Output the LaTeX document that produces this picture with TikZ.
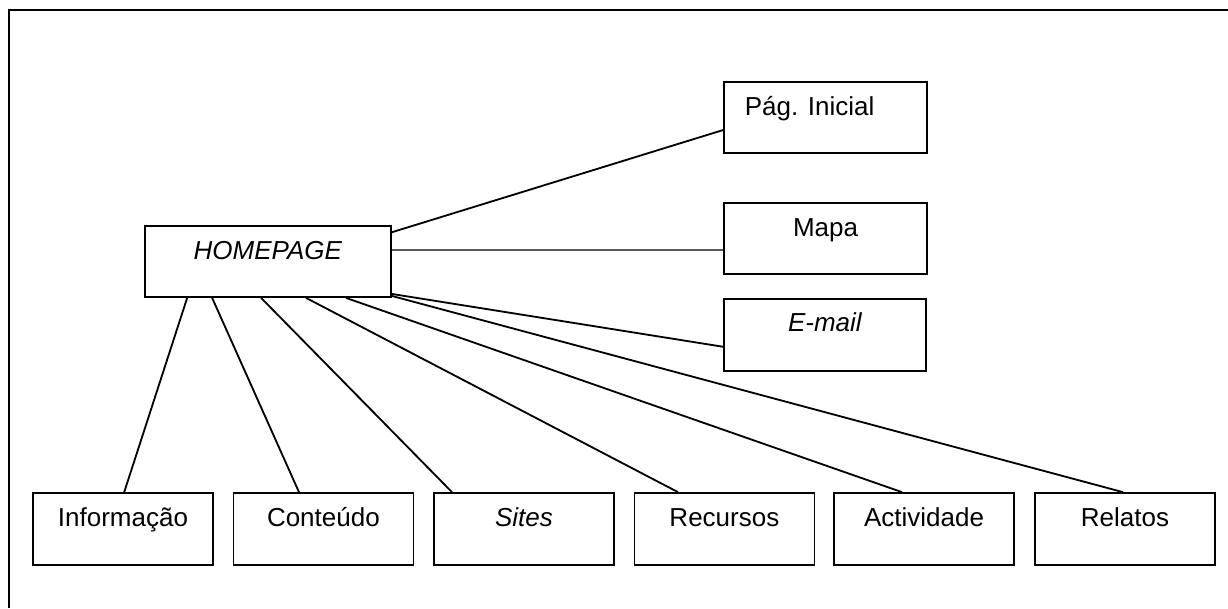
\documentclass[tikz,border=0pt]{standalone}
\usepackage{fontspec}
\setmainfont{Liberation Sans}
\tikzset{
	block/.style={draw, line width=1.2pt, minimum width=4.5cm, minimum height=1.8cm},
	boxtext/.style={anchor=base, font=\fontsize{18.5}{22}\selectfont},
	link/.style={line width=1.3pt}
}

\begin{document}
\begin{tikzpicture}
		\useasboundingbox (0,0) rectangle (30.7,15.2);
		
		% Frame
		\coordinate (frametop) at (30.7,14.95);
		\coordinate (framecorner) at (0.225,14.95);
		\coordinate (framebottom) at (0.225,0);
		\draw[line width=1.2pt] (frametop) -- (framecorner) -- (framebottom);
		
		% Homepage
		\node[block, minimum width=6.15cm, minimum height=1.775cm] (homepage) at (6.7,8.66) {};
		\node[boxtext] (homepage-t) at ([yshift=-0.85cm]homepage.north) {\textit{HOMEPAGE}};
		
		% Right column
		\node[block, minimum width=5.075cm, minimum height=1.775cm] (inicial) at (20.64,12.26) {};
		\node[boxtext] (inicial-t) at ([xshift=-0.4cm, yshift=-0.85cm]inicial.north) {Pág. Inicial};
		
		\node[block, minimum width=5.075cm, minimum height=1.775cm] (mapa) at (20.64,9.24) {};
		\node[boxtext] (mapa-t) at ([yshift=-0.85cm]mapa.north) {Mapa};
		
		\node[block, minimum width=5.05cm] (email) at (20.63,6.83) {};
		\node[boxtext] (email-t) at ([yshift=-0.85cm]email.north) {\textit{E-mail}};
		
		% Bottom row
		\node[block] (info) at (3.075,1.975) {};
		\node[boxtext] (info-t) at ([yshift=-0.85cm]info.north) {Informação};
		
		\node[block] (conteudo) at (8.085,1.975) {};
		\node[boxtext] (conteudo-t) at ([yshift=-0.85cm]conteudo.north) {Conteúdo};
		
		\node[block] (sites) at (13.1,1.975) {};
		\node[boxtext] (sites-t) at ([yshift=-0.85cm]sites.north) {\textit{Sites}};
		
		\node[block] (recursos) at (18.11,1.975) {};
		\node[boxtext] (recursos-t) at ([yshift=-0.85cm]recursos.north) {Recursos};
		
		\node[block] (actividade) at (23.1,1.975) {};
		\node[boxtext] (actividade-t) at ([yshift=-0.85cm]actividade.north) {Actividade};
		
		\node[block] (relatos) at (28.125,1.975) {};
		\node[boxtext] (relatos-t) at ([yshift=-0.85cm]relatos.north) {Relatos};
		
		% Links
		\draw[link] ([yshift=-0.175cm]homepage.north east) -- ([yshift=-0.31cm]inicial.west);
		\draw[line width=0.9pt] ([yshift=0.29cm]homepage.east) -- ([yshift=-0.29cm]mapa.west);
		\draw[link] ([yshift=0.1cm]homepage.south east) -- ([yshift=-0.3cm]email.west);
		\draw[link] ([xshift=1.075cm]homepage.south west) -- ([xshift=0.03cm]info.north);
		\draw[link] ([xshift=1.7cm]homepage.south west) -- ([xshift=-0.61cm]conteudo.north);
		\draw[link] ([xshift=2.925cm]homepage.south west) -- ([xshift=-1.8cm]sites.north);
		\draw[link] ([xshift=4.05cm]homepage.south west) -- ([xshift=-1.16cm]recursos.north);
		\draw[link] ([xshift=5.05cm]homepage.south west) -- ([xshift=-0.55cm]actividade.north);
		\draw[link] ([yshift=0.05cm]homepage.south east) -- ([xshift=-0.05cm]relatos.north);
	\end{tikzpicture}
\end{document}
